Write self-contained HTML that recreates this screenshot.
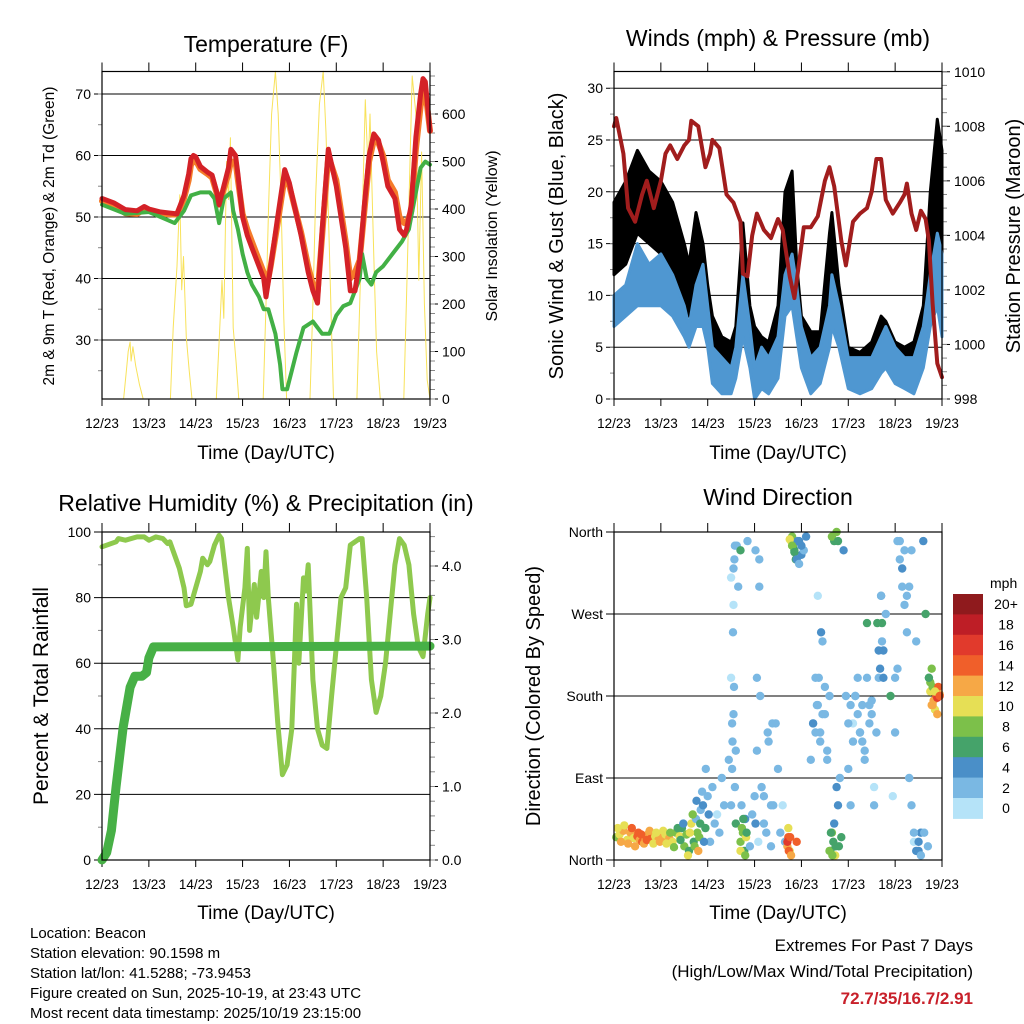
<!DOCTYPE html>
<html><head><meta charset="utf-8"><style>
html,body{margin:0;padding:0;background:#fff}
svg{display:block;font-family:"Liberation Sans",sans-serif}
</style></head><body>
<svg id="c" width="1024" height="1024" viewBox="0 0 1024 1024">
<text x="266" y="52" font-size="23" text-anchor="middle">Temperature (F)</text>
<text x="778" y="46" font-size="23" text-anchor="middle">Winds (mph) &amp; Pressure (mb)</text>
<text x="266" y="511" font-size="23" text-anchor="middle">Relative Humidity (%) &amp; Precipitation (in)</text>
<text x="778" y="505" font-size="23" text-anchor="middle">Wind Direction</text>
<text x="266" y="459" font-size="19" text-anchor="middle">Time (Day/UTC)</text>
<text x="778" y="459" font-size="19" text-anchor="middle">Time (Day/UTC)</text>
<text x="266" y="919" font-size="19" text-anchor="middle">Time (Day/UTC)</text>
<text x="778" y="919" font-size="19" text-anchor="middle">Time (Day/UTC)</text>
<text transform="translate(54,236) rotate(-90)" font-size="15.5" text-anchor="middle">2m &amp; 9m T (Red, Orange) &amp; 2m Td (Green)</text>
<text transform="translate(497,236) rotate(-90)" font-size="16" text-anchor="middle">Solar Insolation (Yellow)</text>
<text transform="translate(563,236) rotate(-90)" font-size="20" text-anchor="middle">Sonic Wind &amp; Gust (Blue, Black)</text>
<text transform="translate(1020,236) rotate(-90)" font-size="20" text-anchor="middle">Station Pressure (Maroon)</text>
<text transform="translate(48,696) rotate(-90)" font-size="21" text-anchor="middle">Percent &amp; Total Rainfall</text>
<text transform="translate(540,696) rotate(-90)" font-size="20" text-anchor="middle">Direction (Colored By Speed)</text>
<g font-size="15">
<text x="30" y="938">Location: Beacon</text>
<text x="30" y="958">Station elevation: 90.1598 m</text>
<text x="30" y="978">Station lat/lon: 41.5288; -73.9453</text>
<text x="30" y="998">Figure created on Sun, 2025-10-19, at 23:43 UTC</text>
<text x="30" y="1018">Most recent data timestamp: 2025/10/19 23:15:00</text>
</g>
<g font-size="17" text-anchor="end">
<text x="973" y="951">Extremes For Past 7 Days</text>
<text x="973" y="977">(High/Low/Max Wind/Total Precipitation)</text>
<text x="973" y="1004" fill="#c8202a" font-weight="bold">72.7/35/16.7/2.91</text>
</g>
</svg>
<script>
const NS='http://www.w3.org/2000/svg';
const svg=document.getElementById('c');
const dayLabels=['12/23','13/23','14/23','15/23','16/23','17/23','18/23','19/23'];
// Temperature
const tempT=[0,0.25,0.5,0.75,0.9,1.0,1.25,1.5,1.6,1.75,1.85,1.9,1.95,2.0,2.1,2.25,2.35,2.45,2.5,2.6,2.7,2.75,2.85,2.9,3.0,3.1,3.2,3.3,3.45,3.5,3.6,3.75,3.9,4.0,4.1,4.25,4.4,4.5,4.6,4.7,4.83,5.0,5.2,5.3,5.4,5.5,5.6,5.7,5.8,5.9,6.0,6.1,6.25,6.35,6.45,6.5,6.6,6.7,6.8,6.85,6.9,7.0];
const tempRed=[53,52.3,51.2,51,51.7,51.3,50.8,50.6,50.5,53.5,57,59.5,60,59.8,58.2,57.3,56.8,54,52,55,58,61,60,57,50,47,45,43,40,37,42,50,57.7,55.5,52,47,41,38,36,48,61,55,45,38,38,43,52,60,63.5,62.5,59,55,53,48,47,48,52,63,70,72.5,72,64];
const tempOrange=[52.6,52,50.6,50.5,51.3,51,50.5,50.4,50.4,53,56,58.5,59,59.2,57.8,57,56.4,53.8,52,54.5,57,59,59,56,50.5,48,46,44,41,38,42,49,56.5,55,52,47.5,42,39,37.5,47,60,56,46,40,41,43,51,59,62.5,62,60,56,54,50,49,49,51,61,68,70,70.5,64];
const dewT=[0,0.5,1.0,1.25,1.55,1.75,1.9,2.1,2.3,2.4,2.5,2.6,2.75,2.8,2.9,3.0,3.1,3.2,3.35,3.45,3.55,3.7,3.8,3.85,3.95,4.05,4.15,4.3,4.5,4.7,4.85,5.0,5.15,5.3,5.4,5.5,5.55,5.65,5.75,5.85,6.0,6.2,6.4,6.55,6.7,6.8,6.9,7.0];
const dewPt=[52,50.5,50.8,50,49,51,53.5,54,54,53,49,53,54,51,48,44,41,39,37,35,35,31,26,22,22,25,28,32,33,31,31,34,35.5,36,38,40,44,40,39,41,42,44,46,48,54,58,59,58.5];
const solarT=[0.46,0.52,0.56,0.6,0.62,0.66,0.72,0.8,0.88,1.46,1.52,1.6,1.66,1.7,1.74,1.8,1.86,1.92,2.44,2.5,2.56,2.6,2.66,2.7,2.74,2.8,2.86,2.92,3.44,3.5,3.56,3.62,3.7,3.76,3.82,3.88,3.94,4.44,4.5,4.56,4.64,4.72,4.78,4.84,4.9,4.94,5.44,5.5,5.56,5.62,5.68,5.72,5.8,5.86,5.94,6.44,6.5,6.56,6.62,6.7,6.76,6.82,6.88,6.94,7.0];
const solarV=[0,60,100,120,80,110,70,30,0,0,150,280,430,230,300,130,60,0,0,120,250,170,500,420,550,150,80,0,0,200,420,600,690,600,420,170,0,0,200,430,620,690,560,360,140,0,0,200,400,630,480,600,300,100,0,0,220,450,680,600,250,520,200,40,0];
// Wind
const windT=[0,0.25,0.5,0.75,1.0,1.25,1.5,1.6,1.75,1.9,2.0,2.1,2.3,2.5,2.6,2.75,2.9,3.0,3.15,3.3,3.5,3.65,3.8,3.9,4.0,4.2,4.4,4.6,4.65,4.8,5.0,5.25,5.5,5.7,5.8,6.0,6.2,6.4,6.6,6.75,6.9,7.0];
const windLo=[7,8,9,9,9,8,6,5,7,7,5,1.5,0.5,0.5,2,6,3,0,1,0.5,2,8,9,6,3,0.5,1.5,5,7,5,1,0.5,1,2.5,3,1.5,1,0.5,3,7,9,6];
const windHi=[10,11,15,13,14,12,9,7,11,13,9,5,4,3,5,12,7,3,5,4,6,12,14,11,7,4,5,9,12,9,4,4,4,6,7,5,4,4,7,12,16,14];
const gustLo=[12,13,16,15,14,12,9,8,11,8,6,3,2,2,4,9,4,1,2,2,4,11,12,8,5,3,3,8,9,7,3,3,3,5,5,3,3,3,6,11,14,13];
const gustHi=[19,21,24,22,21,19,15,13,18,15,11,8,6,5.5,7,17,9,7,6,5.5,9,20,22,13,8,6.5,6.5,16,18,11,5,4.5,5.5,8,7.5,5.5,5,5.5,9,20,27,24];
const presT=[0,0.05,0.2,0.3,0.45,0.6,0.7,0.85,1.0,1.1,1.2,1.35,1.5,1.6,1.65,1.8,1.95,2.05,2.1,2.25,2.4,2.55,2.7,2.75,2.85,2.95,3.05,3.2,3.35,3.5,3.6,3.75,3.85,3.95,4.05,4.2,4.35,4.5,4.6,4.7,4.85,4.95,5.1,5.25,5.4,5.5,5.6,5.7,5.8,5.95,6.1,6.2,6.25,6.35,6.45,6.55,6.65,6.72,6.8,6.9,7.0];
const presV=[1008,1008.3,1007,1005,1004.5,1005.5,1006,1005,1006,1007,1007.3,1006.8,1007.3,1007.5,1008.2,1008,1006.5,1007,1007.5,1007.2,1005.5,1005.2,1004.5,1002.6,1002.5,1004,1004.8,1004.2,1003.9,1004.6,1004.2,1002.5,1001.7,1003,1004.3,1004.3,1004.7,1006,1006.5,1005.8,1003.8,1002.9,1004.5,1004.8,1005,1005.6,1006.8,1006.8,1005.3,1004.8,1005.2,1005.5,1005.9,1004.8,1004.2,1004.9,1004.6,1003.8,1001.5,999.3,998.8];
// RH & precip
const rhT=[0,0.3,0.35,0.5,0.75,0.9,1.0,1.15,1.3,1.4,1.45,1.55,1.65,1.75,1.8,1.9,2.0,2.1,2.15,2.25,2.3,2.4,2.5,2.55,2.65,2.7,2.8,2.9,2.95,3.05,3.1,3.15,3.25,3.3,3.4,3.45,3.5,3.55,3.65,3.75,3.85,3.95,4.05,4.1,4.15,4.2,4.3,4.35,4.4,4.5,4.6,4.7,4.8,4.9,5.0,5.1,5.2,5.3,5.4,5.5,5.55,5.65,5.75,5.85,5.95,6.05,6.15,6.25,6.35,6.45,6.55,6.65,6.75,6.85,6.95,7.0];
const rhV=[95.5,97,98,97.5,98.5,98.5,97.5,98.5,98,96.5,97,93,89,83,77.5,78,83,88,92,90,91,96,99,98,86,80,71,61,71,83,95,70,84,74,88,80,94,80,62,42,26,29,40,58,78,60,86,82,90,55,40,35,34,50,65,80,83,96,97,98,98,80,55,45,50,60,75,90,98,96,90,75,65,62,75,80];
const rainT=[0,0.1,0.2,0.3,0.45,0.6,0.7,0.85,0.95,1.0,1.1,7.0];
const rainV=[0,0.1,0.4,1.0,1.8,2.35,2.5,2.5,2.55,2.75,2.9,2.91];
// Wind direction scatter (time days, direction deg, speed mph)
const dirT=[0.05,0.12,0.2,0.28,0.35,0.42,0.5,0.55,0.6,0.66,0.72,0.8,0.88,0.95,1.02,1.1,1.18,1.25,1.32,1.4,1.45,1.5,1.55,1.6,1.65,1.7,1.75,1.78,1.82,1.85,1.9,1.95,2.0,2.05,2.1,2.15,2.2,2.25,2.3,2.35,2.45,2.5,2.52,2.55,2.55,2.58,2.6,2.6,2.62,2.65,2.7,2.72,2.75,2.78,2.8,2.82,2.85,2.9,2.95,3.0,3.02,3.05,3.08,3.1,3.15,3.2,3.25,3.3,3.35,3.4,3.45,3.5,3.55,3.6,3.65,3.7,3.72,3.75,3.78,3.8,3.82,3.85,3.88,3.9,3.92,3.95,4.0,4.05,4.1,4.2,4.25,4.3,4.35,4.4,4.45,4.5,4.55,4.6,4.62,4.65,4.68,4.7,4.72,4.75,4.8,4.85,4.9,4.95,5.0,5.05,5.1,5.15,5.2,5.25,5.3,5.35,5.4,5.45,5.5,5.55,5.6,5.65,5.7,5.72,5.75,5.8,5.9,5.95,6.0,6.05,6.1,6.15,6.2,6.25,6.3,6.35,6.4,6.45,6.5,6.55,6.6,6.62,6.65,6.7,6.72,6.75,6.78,6.8,6.82,6.85,6.88,6.9,6.92,6.95,
0.08,0.15,0.22,0.3,0.38,0.45,0.52,0.58,0.64,0.7,0.76,0.84,0.9,0.98,1.05,1.12,1.2,1.28,1.36,1.42,1.48,1.58,1.62,1.68,1.72,1.76,1.8,1.84,1.88,1.92,1.96,2.02,2.5,2.52,2.53,2.55,2.56,2.54,2.57,2.58,2.5,2.7,2.73,2.76,2.8,2.83,2.7,3.02,3.05,3.1,3.12,3.2,3.28,3.35,3.38,3.7,3.73,3.76,3.78,3.72,3.75,3.8,3.85,3.9,3.95,4.0,4.3,4.33,4.37,4.4,4.42,4.45,4.5,4.55,4.35,4.25,4.6,4.63,4.66,4.7,4.73,4.78,4.82,4.65,4.78,4.75,5.0,5.05,5.1,5.15,5.2,5.25,5.3,5.35,5.4,5.45,5.5,5.55,5.62,5.65,5.68,5.72,5.75,5.7,6.05,6.1,6.15,6.2,6.25,6.0,6.3,6.35,6.4,6.45,6.5,6.55,6.75,6.8,6.85,6.9,6.95,6.72,6.78];
const dirD=[25,28,32,22,30,24,26,22,20,25,28,24,26,22,25,28,24,20,30,26,35,15,28,10,40,20,45,30,25,55,60,35,70,20,80,40,50,30,90,60,110,200,150,280,320,80,120,40,345,300,20,60,30,10,45,25,350,15,50,70,340,120,20,300,80,40,30,130,15,60,150,100,30,60,20,15,25,10,350,355,345,340,330,20,350,350,335,340,355,110,150,200,170,140,240,160,110,180,10,30,20,350,5,360,15,25,340,180,100,60,150,180,200,140,130,110,260,170,160,80,140,200,290,260,230,270,180,70,140,210,350,320,340,290,300,340,20,240,10,30,350,30,270,15,200,185,170,190,175,165,180,178,190,182,
35,20,38,18,35,15,30,28,18,22,32,18,30,20,32,18,30,14,35,22,40,5,30,50,15,65,10,40,75,20,100,50,60,100,130,160,190,250,330,345,310,10,35,45,5,30,340,40,200,330,180,70,140,60,150,20,10,25,5,35,352,345,338,330,325,345,140,170,200,130,250,160,190,120,290,150,10,30,5,40,15,60,90,355,350,80,150,170,130,180,160,140,170,120,200,150,175,60,260,230,210,240,200,290,350,330,300,280,250,200,90,60,30,10,20,5,195,170,185,160,180,200,210];
const dirS=[9,11,13,10,12,11,14,13,15,12,13,14,11,12,13,10,12,11,9,10,7,9,8,6,10,7,3,9,8,3,4,7,3,2,2,3,1,2,2,3,2,1,3,1,2,3,2,7,3,2,8,3,9,7,5,10,2,2,3,2,2,3,1,3,2,2,2,2,3,2,3,2,2,1,3,13,15,11,10,8,9,7,6,14,4,5,5,3,4,2,3,2,3,2,3,2,3,2,7,8,6,6,10,9,6,7,5,2,2,3,1,2,3,2,2,3,7,2,3,1,2,3,4,6,5,3,7,1,2,2,3,4,2,3,2,3,1,3,4,4,5,3,6,2,7,10,12,9,13,11,14,17,15,12,
10,12,11,13,14,12,15,14,13,15,12,11,10,12,11,10,9,8,7,6,5,10,11,8,9,4,12,7,3,5,3,4,2,3,2,2,3,2,2,3,1,10,8,6,9,7,7,4,2,2,3,2,3,3,2,16,15,14,12,10,10,9,6,5,3,4,3,2,3,2,4,3,2,3,1,4,8,6,9,5,7,4,3,8,6,5,2,3,3,2,3,2,3,2,3,2,2,2,6,4,5,3,4,3,2,3,2,2,3,2,2,3,2,4,4,3,9,12,10,13,14,7,8];
const speedColors=['#b5e3f8','#7ab8e3','#4a8fc8','#45a36a','#7cc04a','#e6df55','#f6a846','#f05f2a','#e13a2c','#be1e26','#8f1a1d'];
const speedLabels=['0','2','4','6','8','10','12','14','16','18','20+'];

function el(tag,attrs,parent){const e=document.createElementNS(NS,tag);for(const k in attrs)e.setAttribute(k,attrs[k]);(parent||svg).appendChild(e);return e;}
function panel(x0,x1,yTop,yBot){return {x0,x1,yTop,yBot,x:t=>x0+t*(x1-x0)/7};}
const P1=panel(102,430,71.5,399),P2=panel(614,942,71.5,399),P3=panel(102,430,532,860),P4=panel(614,942,532,860);
const yTemp=v=>399-(v-20.4)*6.15, ySolar=v=>399-v*0.475;
const yWind=v=>399-v*10.36, yPres=p=>399-(p-998)*27.27;
const yRH=v=>860-v*3.28, yRain=p=>860-p*73.5;
const yDir=d=>860-d*0.911;

function frame(P,name,leftTicks,leftLabels,yf,rightTicks,rightLabels,yr,leftMinor,rightMinor){
  const g=el('g',{});
  
  
  leftTicks.forEach((v,i)=>{const y=yf(v);
    const ln=el('line',{x1:P.x0-8,x2:P.x1,y1:y,y2:y,stroke:'#000','stroke-width':1},g);
    
    
    const t=el('text',{x:P.x0-11,y:y+5,'font-size':14,'text-anchor':'end'},g);t.textContent=leftLabels[i];
    
    });
  (leftMinor||[]).forEach(v=>el('line',{x1:P.x0-4,x2:P.x0,y1:yf(v),y2:yf(v),stroke:'#888'},g));
  if(rightTicks){rightTicks.forEach((v,i)=>{const y=yr(v);
    el('line',{x1:P.x1,x2:P.x1+8,y1:y,y2:y,stroke:'#000'},g);
    const t=el('text',{x:P.x1+12,y:y+5,'font-size':14},g);t.textContent=rightLabels[i];
    
    });
    (rightMinor||[]).forEach(v=>el('line',{x1:P.x1,x2:P.x1+5,y1:yr(v),y2:yr(v),stroke:'#888'},g));}
  for(let d=0;d<=7;d++){const x=P.x(d);
    el('line',{x1:x,x2:x,y1:P.yBot,y2:P.yBot+7,stroke:'#000'},g);
    el('line',{x1:x,x2:x,y1:P.yTop-9,y2:P.yTop,stroke:'#000'},g);
    const t=el('text',{x:x,y:P.yBot+29,'font-size':13.5,'text-anchor':'middle'},g);t.textContent=dayLabels[d];
    
    }
  return g;
}
function border(P,name){const r=el('rect',{x:P.x0,y:P.yTop,width:P.x1-P.x0,height:P.yBot-P.yTop,fill:'none',stroke:'#000','stroke-width':1.2});
  
  }
function path(P,ts,vs,yf,color,w,name){const d=ts.map((t,i)=>(i?'L':'M')+P.x(t).toFixed(1)+','+yf(vs[i]).toFixed(1)).join('');
  const p=el('path',{d,fill:'none',stroke:color,'stroke-width':w,'stroke-linejoin':'round','stroke-linecap':'round'});
  
  return p;}
function band(P,ts,lo,hi,yf,color,name){let d='M'+ts.map((t,i)=>P.x(t).toFixed(1)+','+yf(hi[i]).toFixed(1)).join('L');
  for(let i=ts.length-1;i>=0;i--)d+='L'+P.x(ts[i]).toFixed(1)+','+yf(lo[i]).toFixed(1);d+='Z';
  const p=el('path',{d,fill:color,stroke:color,'stroke-width':3,'stroke-linejoin':'round'});
  
  return p;}
function range(a,b,s){const r=[];for(let v=a;v<=b+1e-9;v+=s)r.push(v);return r;}

// Panel 1
frame(P1,'temperature',[30,40,50,60,70],['30','40','50','60','70'],yTemp,[0,100,200,300,400,500,600],['0','100','200','300','400','500','600'],ySolar,range(25,70,5),range(0,680,20));
path(P1,solarT,solarV,ySolar,'#f8e25a',1,'solar-insolation-line');
path(P1,tempT,tempOrange,yTemp,'#f57c2a',6,'temp-9m-line');
path(P1,dewT,dewPt,yTemp,'#42b045',4,'dewpoint-line');
path(P1,tempT,tempRed,yTemp,'#d42127',5,'temp-2m-line');
border(P1,'temperature');
// Panel 2
frame(P2,'winds',[0,5,10,15,20,25,30],['0','5','10','15','20','25','30'],yWind,[998,1000,1002,1004,1006,1008,1010],['998','1000','1002','1004','1006','1008','1010'],yPres,range(0,30,2.5),range(998,1010,0.5));
band(P2,windT,gustLo,gustHi,yWind,'#000','gust-dots-band');
band(P2,windT,windLo,windHi,yWind,'#4f97d1','sustained-wind-band');
path(P2,presT,presV,yPres,'#a11d1d',4,'pressure-line');
border(P2,'winds');
// Panel 3
frame(P3,'humidity',[0,20,40,60,80,100],['0','20','40','60','80','100'],yRH,[0,1,2,3,4],['0.0','1.0','2.0','3.0','4.0'],yRain,range(10,90,20),range(0,4.4,0.2));
path(P3,rhT,rhV,yRH,'#8ec94e',5,'relative-humidity-line');
path(P3,rainT,rainV,yRain,'#47b046',9,'total-rainfall-line');
border(P3,'humidity');
// Panel 4
frame(P4,'wind-direction',[0,90,180,270,360],['North','East','South','West','North'],yDir,null,null,null,[],[]);
dirT.forEach((t,i)=>{const s=dirS[i];const c=speedColors[Math.min(10,Math.floor(s/2))];
  const pt=el('circle',{cx:P4.x(t).toFixed(1),cy:yDir(dirD[i]).toFixed(1),r:4.2,fill:c});
  
  });
border(P4,'wind-direction');
// colorbar
const cb=el('g',{});


const cbTop=594,cbH=20.4;
const mt=el('text',{x:990,y:588,'font-size':14},cb);mt.textContent='mph';


for(let k=0;k<11;k++){const idx=10-k;const y=cbTop+k*cbH;
  const r=el('rect',{x:953,y:y,width:30,height:cbH+0.5,fill:speedColors[idx]},cb);
  
  
  const t=el('text',{x:1006,y:y+cbH/2+5,'font-size':14,'text-anchor':'middle'},cb);t.textContent=speedLabels[idx];
  
  }
</script>
</body></html>
